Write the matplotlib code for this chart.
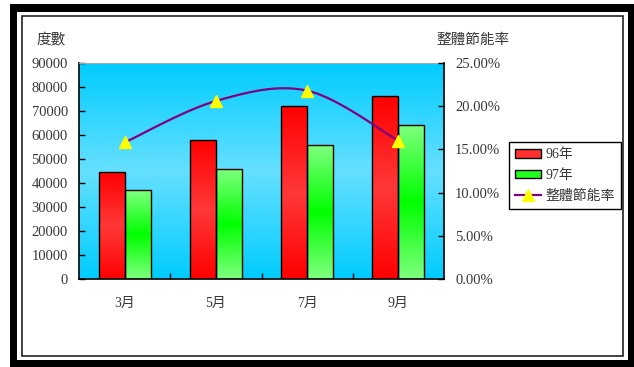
import numpy as np
import matplotlib
matplotlib.use("Agg")
import matplotlib.pyplot as plt
from matplotlib.colors import LinearSegmentedColormap
from matplotlib.patches import Rectangle, Patch
from matplotlib.lines import Line2D
from matplotlib.ticker import FuncFormatter

# data
months = ["3月", "5月", "7月", "9月"]
kwh_96 = [44500, 58000, 72000, 76200]
kwh_97 = [37000, 45800, 55800, 64000]
save_rate = [0.158, 0.206, 0.218, 0.160]

W, H = 634, 367
FONT = ["Liberation Serif", "Noto Sans CJK TC"]
TXT = "#383838"
plt.rcParams["font.family"] = FONT

fig = plt.figure(figsize=(W / 100, H / 100), dpi=100, facecolor="white")


def px_box(x0, y0, x1, y1):
    # pixel box (top-left origin) -> figure fraction rect
    return [x0 / W, 1 - y1 / H, (x1 - x0) / W, (y1 - y0) / H]


# outer frames (behind the axes)
r = px_box(10, 4, 634, 367)
fig.patches.append(Rectangle((r[0], r[1]), r[2], r[3], transform=fig.transFigure,
                             facecolor="black", edgecolor="none", zorder=-3))
r = px_box(17, 12, 628, 360)
fig.patches.append(Rectangle((r[0], r[1]), r[2], r[3], transform=fig.transFigure,
                             facecolor="white", edgecolor="none", zorder=-2))
r = px_box(22, 16, 623, 356)
fig.patches.append(Rectangle((r[0], r[1]), r[2], r[3], transform=fig.transFigure,
                             facecolor="none", edgecolor="#222222", lw=1.2, zorder=-1))

ax = fig.add_axes(px_box(79, 63, 444, 279))
ax.set_xlim(-0.5, 3.5)
ax.set_ylim(0, 90000)
ax.patch.set_visible(False)

# plot area gradient
bg = LinearSegmentedColormap.from_list("bg", ["#00CCFF", "#66E0FF", "#00CCFF"])
ax.imshow(np.linspace(0, 1, 256).reshape(-1, 1), cmap=bg, aspect="auto",
          extent=(-0.5, 3.5, 0, 90000), zorder=0)

x = np.arange(len(months))
bw = 0.285
red_cm = LinearSegmentedColormap.from_list("r", ["#FF0000", "#FF3838", "#FF0000"])
grn_cm = LinearSegmentedColormap.from_list("g", ["#7FFF7F", "#00FF00", "#7FFF7F"])

for vals, off, cm in [(kwh_96, -bw / 2, red_cm), (kwh_97, bw / 2, grn_cm)]:
    bars = ax.bar(x + off, vals, width=bw, facecolor="none", edgecolor="black",
                  linewidth=1.0, zorder=3)
    for b in bars:
        bx, by = b.get_x(), b.get_y()
        im = ax.imshow(np.linspace(0, 1, 256).reshape(-1, 1), cmap=cm, aspect="auto",
                       extent=(bx, bx + b.get_width(), by, by + b.get_height()), zorder=2)
        im.set_clip_path(b)
ax.set_xlim(-0.5, 3.5)
ax.set_ylim(0, 90000)

ax.set_yticks(np.arange(0, 90001, 10000))
ax.set_xticks(x)
ax.set_xticklabels(months)
ax.set_xticks([0.5, 1.5, 2.5], minor=True)
ax.tick_params(axis="x", which="major", length=0, pad=13, labelsize=10, labelcolor=TXT)
ax.tick_params(axis="x", which="minor", direction="in", length=4, width=1)
ax.tick_params(axis="y", direction="in", length=4, width=1, pad=8, labelsize=10.5,
               labelcolor=TXT)
for s in ["left", "bottom"]:
    ax.spines[s].set_color("black")
    ax.spines[s].set_linewidth(1.2)
ax.spines["top"].set_color("#A8A8A8")
ax.spines["right"].set_visible(False)

# right axis with smoothed rate line
ax2 = ax.twinx()
ax2.set_ylim(0, 0.25)
ax2.set_yticks(np.arange(0, 0.2501, 0.05))
ax2.yaxis.set_major_formatter(FuncFormatter(lambda v, p: f"{v * 100:.2f}%"))
ax2.tick_params(axis="y", direction="in", length=4, width=1, pad=8, labelsize=10.5,
                labelcolor=TXT)
ax2.spines["right"].set_color("black")
ax2.spines["right"].set_linewidth(1.2)
for s in ["left", "top", "bottom"]:
    ax2.spines[s].set_visible(False)


def smooth(px, py, n=40):
    # Catmull-Rom style bezier path through the points (Excel smoothed line)
    P = np.column_stack([px, py]).astype(float)
    P = np.vstack([P[0], P, P[-1]])
    out = []
    for i in range(1, len(P) - 2):
        p0, p1, p2, p3 = P[i - 1], P[i], P[i + 1], P[i + 2]
        c1 = p1 + (p2 - p0) / 6
        c2 = p2 - (p3 - p1) / 6
        t = np.linspace(0, 1, n)[:, None]
        seg = ((1 - t) ** 3) * p1 + 3 * ((1 - t) ** 2) * t * c1 + 3 * (1 - t) * t ** 2 * c2 + t ** 3 * p2
        out.append(seg)
    s = np.vstack(out)
    return s[:, 0], s[:, 1]


sx, sy = smooth(x, save_rate)
ax2.plot(sx, sy, color="#800080", lw=1.6, zorder=4)
ax2.plot(x, save_rate, ls="none", marker="^", ms=9, color="#FFFF00",
         markeredgecolor="#FFFF00", zorder=5)

fig.text(51 / W, 1 - 40 / H, "度數", ha="center", va="center", fontsize=10.5, color=TXT)
fig.text(473 / W, 1 - 40 / H, "整體節能率", ha="center", va="center", fontsize=10.5, color=TXT)

handles = [Patch(facecolor="#FF3030", edgecolor="black", lw=1.0),
           Patch(facecolor="#20FF20", edgecolor="black", lw=1.0),
           Line2D([], [], color="#800080", lw=1.6, marker="^", ms=9,
                  markerfacecolor="#FFFF00", markeredgecolor="#FFFF00")]
leg = fig.legend(handles, ["96年", "97年", "整體節能率"], loc="upper left",
                 bbox_to_anchor=(509 / W, 1 - 142 / H), fontsize=10, frameon=True,
                 fancybox=False, edgecolor="black", framealpha=1, borderpad=0.45,
                 handlelength=1.85, handleheight=0.6, handletextpad=0.3,
                 labelspacing=0.55, borderaxespad=0)
leg.get_frame().set_linewidth(1.0)
for t in leg.get_texts():
    t.set_color(TXT)

fig.savefig("out.png", dpi=100)
